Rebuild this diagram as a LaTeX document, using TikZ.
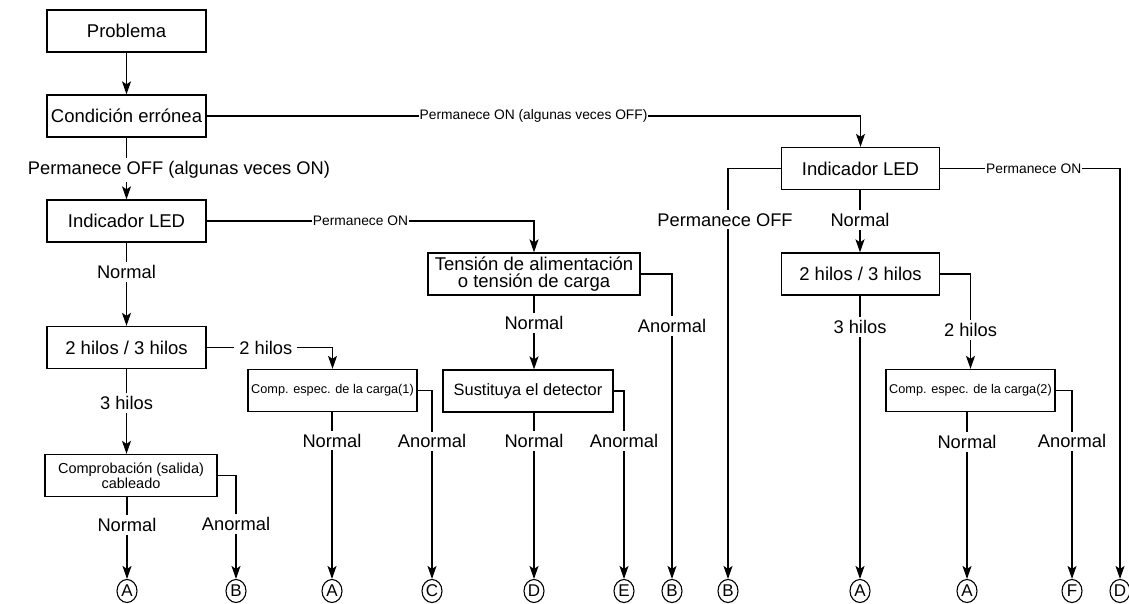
\documentclass[tikz,border=0pt]{standalone}
\usepackage{fontspec}
\setmainfont{Liberation Sans}
\usetikzlibrary{arrows.meta,shapes.geometric}
\begin{document}
\begin{tikzpicture}[x=1pt,y=-1pt,
  box/.style={draw, line width=1.3pt, minimum height=42pt, inner sep=0pt, align=center},
  bigf/.style={font=\fontsize{18.5}{17.5}\selectfont},
  lbl/.style={fill=white, inner sep=3pt, font=\fontsize{18.3}{18}\selectfont},
  slbl/.style={fill=white, inner sep=1pt, font=\fontsize{13.8}{14}\selectfont},
  ln/.style={line width=1.25pt},
  arr/.style={ln, -{Stealth[length=13pt,width=9pt,inset=3pt]}},
  term/.style={ellipse, draw, line width=1.1pt, minimum width=20pt, minimum height=23pt, inner sep=0pt, font=\fontsize{17}{17}\selectfont}
]
\useasboundingbox (0,0) rectangle (1129,604);

% boxes
\node[box,bigf,minimum width=159pt] (prob) at (126.5,31) {Problema};
\node[box,bigf,minimum width=159pt] (cond) at (126.5,116) {Condición errónea};
\node[box,bigf,minimum width=159pt] (led1) at (126.5,221) {Indicador LED};
\node[box,bigf,minimum width=159pt] (hil1) at (126.5,347.5) {2 hilos / 3 hilos};
\node[box,minimum width=172pt,font=\fontsize{14.5}{13.5}\selectfont] (compro) at (131,475.5) {Comprobación (salida)\\cableado};
\node[box,minimum width=169pt,font=\fontsize{12.7}{13}\selectfont] (comp1) at (332.5,390.5) {Comp. espec. de la carga(1)};
\node[box,bigf,minimum width=212pt] (ten) at (534,274) {Tensión de alimentación\\o tensión de carga};
\node[box,minimum width=170pt,font=\fontsize{16.4}{16}\selectfont] (sust) at (528,391) {Sustituya el detector};
\node[box,bigf,minimum width=158pt] (led2) at (860.5,168.5) {Indicador LED};
\node[box,bigf,minimum width=158pt] (hil2) at (860.5,274) {2 hilos / 3 hilos};
\node[box,minimum width=169pt,font=\fontsize{12.7}{13}\selectfont] (comp2) at (970.5,390.5) {Comp. espec. de la carga(2)};

% terminals
\node[term] (tA1) at (127,591) {A};
\node[term] (tB1) at (236,591) {B};
\node[term] (tA2) at (332,591) {A};
\node[term] (tC)  at (432,591) {C};
\node[term] (tD1) at (534,591) {D};
\node[term] (tE)  at (624,591) {E};
\node[term] (tB2) at (672,591) {B};
\node[term] (tB3) at (728,591) {B};
\node[term] (tA3) at (860,591) {A};
\node[term] (tA4) at (967,591) {A};
\node[term] (tF)  at (1072,591) {F};
\node[term] (tD2) at (1120,591) {D};

% connectors
\draw[arr] (prob) -- (cond);
\draw[arr] (cond.east) -- node[slbl,pos=0.5] (l2) {Permanece ON (algunas veces OFF)} (led2.north |- cond.east) -- (led2.north);
\draw[arr] (cond) -- (led1);
\node[lbl] (l3) at (179,170) {Permanece OFF (algunas veces ON)};
\draw[arr] (led1.east) -- node[slbl,pos=0.47] (l4) {Permanece ON} (ten.north |- led1.east) -- (ten.north);
\draw[arr] (led1) -- node[lbl,pos=0.355] (l5) {Normal} (hil1);
\draw[arr] (hil1.east) -- node[lbl,inner sep=5pt,pos=0.47] (l6) {2 hilos} (comp1.north |- hil1.east) -- (comp1.north);
\draw[arr] (hil1.south) -- node[lbl,pos=0.4] (l7) {3 hilos} (hil1.south |- compro.north);
\draw[arr] (tA1 |- compro.south) -- node[lbl,pos=0.34] (l8) {Normal} (tA1);
\draw[arr] (compro.east) -- (tB1 |- compro.east) -- node[lbl,pos=0.47] (l9) {Anormal} (tB1);
\draw[arr] (tA2 |- comp1.south) -- node[lbl,pos=0.17] (l10) {Normal} (tA2);
\draw[arr] (comp1.east) -- (tC |- comp1.east) -- node[lbl,pos=0.27] (l11) {Anormal} (tC);
\draw[arr] (ten.south) -- node[lbl,pos=0.37] (l12) {Normal} (ten.south |- sust.north);
\draw[arr] (ten.east) -- (tB2 |- ten.east) -- node[lbl,pos=0.17] (l13) {Anormal} (tB2);
\draw[arr] (tD1 |- sust.south) -- node[lbl,pos=0.17] (l14) {Normal} (tD1);
\draw[arr] (sust.east) -- (tE |- sust.east) -- node[lbl,pos=0.265] (l15) {Anormal} (tE);
\draw[arr] (led2.west) -- (tB3 |- led2.west) -- node[lbl,pos=0.125,xshift=-3pt] (l16) {Permanece OFF} (tB3);
\draw[arr] (led2.east) -- node[slbl,pos=0.52] (l17) {Permanece ON} (tD2 |- led2.east) -- (tD2);
\draw[arr] (tA3 |- led2.south) -- node[lbl,pos=0.48] (l18) {Normal} (tA3 |- hil2.north);
\draw[arr] (tA3 |- hil2.south) -- node[lbl,pos=0.11] (l19) {3 hilos} (tA3);
\draw[arr] (hil2.east) -- (comp2.north |- hil2.east) -- node[lbl,pos=0.59] (l20) {2 hilos} (comp2.north);
\draw[arr] (tA4 |- comp2.south) -- node[lbl,pos=0.18] (l21) {Normal} (tA4);
\draw[arr] (comp2.east) -- (tF |- comp2.east) -- node[lbl,pos=0.27] (l22) {Anormal} (tF);
\end{tikzpicture}
\end{document}
